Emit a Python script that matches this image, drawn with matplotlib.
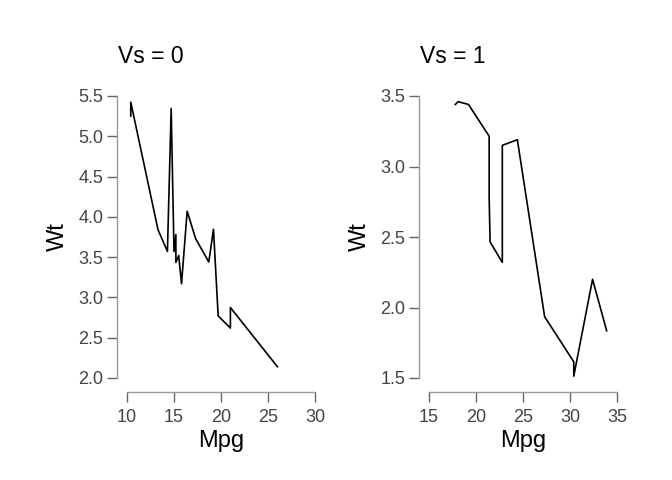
import matplotlib
matplotlib.use("Agg")
import matplotlib.pyplot as plt

plt.rcParams['font.family'] = ['Liberation Sans', 'DejaVu Sans']

# mtcars, split by vs, sorted by mpg (ties kept in original order)
mpg_vs0 = [10.4, 10.4, 13.3, 14.3, 14.7, 15.0, 15.2, 15.2, 15.5, 15.8, 16.4,
           17.3, 18.7, 19.2, 19.7, 21.0, 21.0, 26.0]
wt_vs0 = [5.250, 5.424, 3.840, 3.570, 5.345, 3.570, 3.780, 3.435, 3.520, 3.170,
          4.070, 3.730, 3.440, 3.845, 2.770, 2.620, 2.875, 2.140]

mpg_vs1 = [17.8, 18.1, 19.2, 21.4, 21.4, 21.5, 22.8, 22.8, 24.4, 27.3, 30.4,
           30.4, 32.4, 33.9]
wt_vs1 = [3.440, 3.460, 3.440, 3.215, 2.780, 2.465, 2.320, 3.150, 3.190, 1.935,
          1.615, 1.513, 2.200, 1.835]

panels = [
    ("Vs = 0", mpg_vs0, wt_vs0, [10, 15, 20, 25, 30], [2.0, 2.5, 3.0, 3.5, 4.0, 4.5, 5.0, 5.5]),
    ("Vs = 1", mpg_vs1, wt_vs1, [15, 20, 25, 30, 35], [1.5, 2.0, 2.5, 3.0, 3.5]),
]
lefts = [127, 429]

W, H = 672, 480
fig = plt.figure(figsize=(W / 100, H / 100), dpi=100)

for (title, x, y, xt, yt), left in zip(panels, lefts):
    ax = fig.add_axes([left / W, (H - 378) / H, 188 / W, 282 / H])
    ax.plot(x, y, color='black', lw=1.2)
    ax.set_xlim(xt[0], xt[-1])
    ax.set_ylim(yt[0], yt[-1])
    ax.set_xticks(xt)
    ax.set_yticks(yt)
    ax.set_xticklabels([str(v) for v in xt])
    ax.set_yticklabels(['%.1f' % v for v in yt])

    for s in ['top', 'right']:
        ax.spines[s].set_visible(False)
    ax.spines['left'].set_position(('outward', 7))
    ax.spines['bottom'].set_position(('outward', 10))
    ax.spines['left'].set_bounds(yt[0], yt[-1])
    ax.spines['bottom'].set_bounds(xt[0], xt[-1])
    for s in ['left', 'bottom']:
        ax.spines[s].set_color('#999999')
        ax.spines[s].set_linewidth(1.0)
    ax.tick_params(direction='out', length=7, width=1.0, color='#666666',
                   labelcolor='#444444', labelsize=13)
    ax.tick_params(axis='x', pad=5)
    ax.tick_params(axis='y', pad=3)

    ax.set_xlabel('Mpg', fontsize=17, labelpad=3)
    ax.set_ylabel('Wt', fontsize=17, labelpad=7)
    ax.annotate(title, xy=(0, 1), xycoords='axes fraction', xytext=(-6.5, 24),
                textcoords='offset points', fontsize=16.5, va='baseline', ha='left')

fig.savefig('out.png', dpi=100)
